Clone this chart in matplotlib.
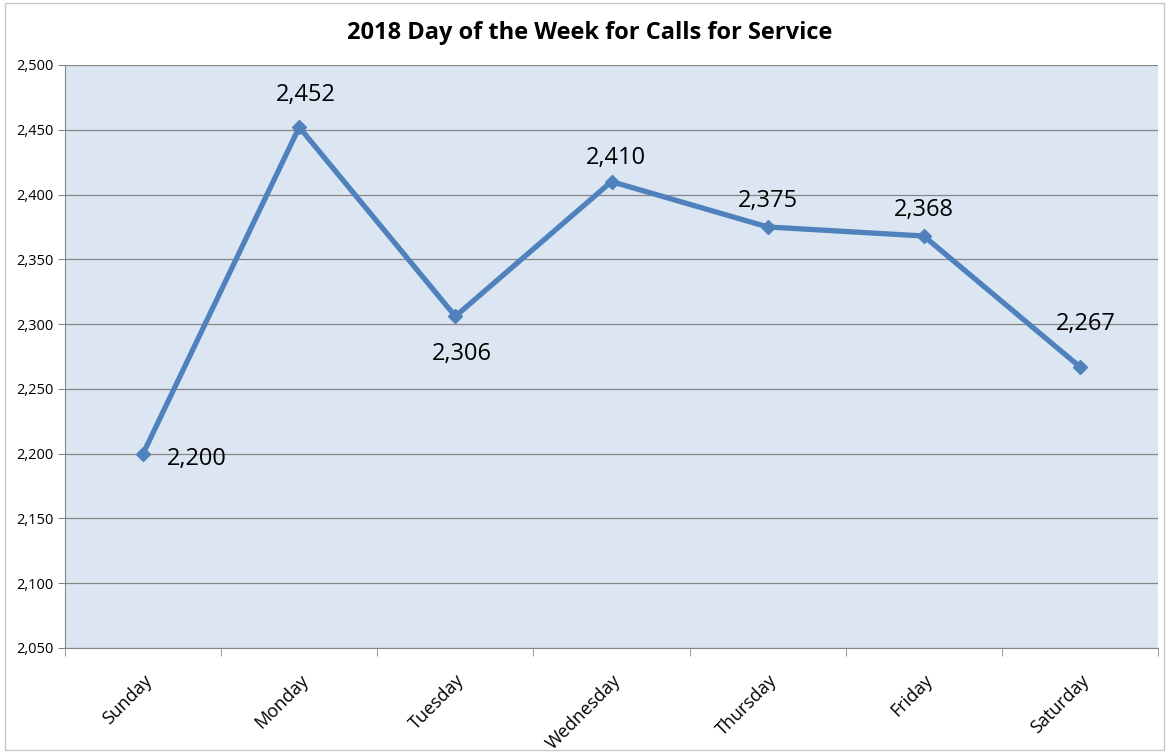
import matplotlib.pyplot as plt
from matplotlib.patches import Rectangle
from matplotlib.ticker import FuncFormatter, MultipleLocator

days = ['Sunday', 'Monday', 'Tuesday', 'Wednesday', 'Thursday', 'Friday', 'Saturday']
calls = [2200, 2452, 2306, 2410, 2375, 2368, 2267]
# where each data label sits relative to its point (points)
label_offsets = [(39, -4), (5, 23), (5, -27), (3, 17), (0, 19), (0, 19), (4, 31)]

plt.rcParams['font.family'] = ['Open Sans', 'DejaVu Sans']

fig = plt.figure(figsize=(11.69, 7.53), dpi=100)
ax = fig.add_axes([65/1169, 105/753, (1158-65)/1169, (648-65)/753])

x = list(range(len(days)))
ax.set_facecolor('#dce6f2')
ax.plot(x, calls, color='#4f81bd', lw=3.8, marker='D', ms=7, zorder=3)

for xi, v, off in zip(x, calls, label_offsets):
    ax.annotate(f'{v:,}', (xi, v), xytext=off, textcoords='offset points',
                ha='center', va='center', fontsize=17, color='black')

ax.set_xlim(-0.5, len(days) - 0.5)
ax.set_ylim(2050, 2500)
ax.yaxis.set_major_locator(MultipleLocator(50))
ax.yaxis.set_major_formatter(FuncFormatter(lambda v, p: f'{int(v):,}'))
ax.grid(axis='y', color='#868686', lw=0.9)
ax.set_axisbelow(True)

ax.set_xticks(x)
ax.set_xticklabels(days, rotation=45, ha='right', rotation_mode='anchor', fontsize=13)
ax.set_xticks([i - 0.5 for i in range(len(days) + 1)], minor=True)
ax.tick_params(axis='x', which='major', length=0, pad=17)
ax.tick_params(axis='x', which='minor', length=6, color='#868686')
ax.tick_params(axis='y', length=5, color='#868686', labelsize=10.5, pad=3)

for s in ['top', 'right']:
    ax.spines[s].set_visible(False)
for s in ['left', 'bottom']:
    ax.spines[s].set_color('#868686')

fig.text(590/1169, 1 - 33/753, '2018 Day of the Week for Calls for Service',
         ha='center', va='center', fontsize=17, fontweight='bold')

fig.patches.append(Rectangle((5/1169, 3/753), 1 - 10/1169, 1 - 6/753,
                             transform=fig.transFigure, fill=False,
                             edgecolor='#c8c8c8', lw=1))

fig.savefig('out.png', dpi=100)
